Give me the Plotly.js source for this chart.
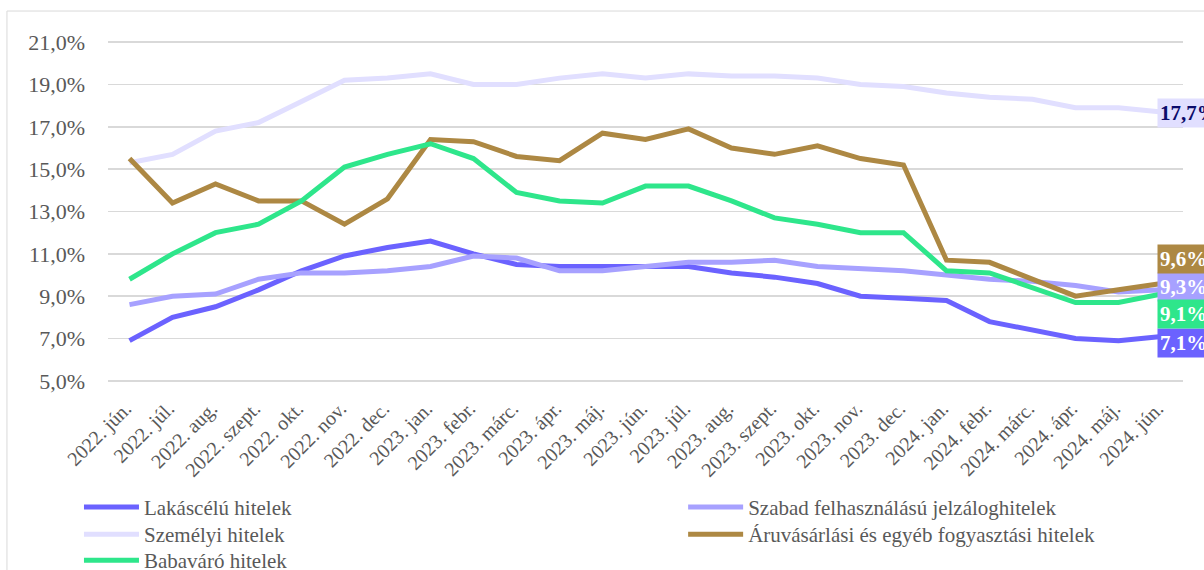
<!DOCTYPE html>
<html><head><meta charset="utf-8">
<script src="https://cdn.plot.ly/plotly-3.0.1.min.js"></script>
<style>html,body{margin:0;padding:0;background:#fff}#chart{width:1204px;height:570px}</style>
</head><body><div id="chart"></div>
<script>
const months = ['2022. jún.','2022. júl.','2022. aug.','2022. szept.','2022. okt.','2022. nov.','2022. dec.',
  '2023. jan.','2023. febr.','2023. márc.','2023. ápr.','2023. máj.','2023. jún.','2023. júl.','2023. aug.',
  '2023. szept.','2023. okt.','2023. nov.','2023. dec.','2024. jan.','2024. febr.','2024. márc.','2024. ápr.',
  '2024. máj.','2024. jún.'];
const names = ['Lakáscélú hitelek','Szabad felhasználású jelzáloghitelek','Személyi hitelek',
  'Áruvásárlási és egyéb fogyasztási hitelek','Babaváró hitelek'];
const lakascelu = [6.9,8.0,8.5,9.3,10.2,10.9,11.3,11.6,11.0,10.5,10.4,10.4,10.4,10.4,10.1,9.9,9.6,9.0,8.9,8.8,7.8,7.4,7.0,6.9,7.1];
const szabad    = [8.6,9.0,9.1,9.8,10.1,10.1,10.2,10.4,10.9,10.8,10.2,10.2,10.4,10.6,10.6,10.7,10.4,10.3,10.2,10.0,9.8,9.7,9.5,9.2,9.3];
const szemelyi  = [15.3,15.7,16.8,17.2,18.2,19.2,19.3,19.5,19.0,19.0,19.3,19.5,19.3,19.5,19.4,19.4,19.3,19.0,18.9,18.6,18.4,18.3,17.9,17.9,17.7];
const aruvasarlasi = [15.5,13.4,14.3,13.5,13.5,12.4,13.6,16.4,16.3,15.6,15.4,16.7,16.4,16.9,16.0,15.7,16.1,15.5,15.2,10.7,10.6,9.8,9.0,9.3,9.6];
const babavaro  = [9.8,11.0,12.0,12.4,13.5,15.1,15.7,16.2,15.5,13.9,13.5,13.4,14.2,14.2,13.5,12.7,12.4,12.0,12.0,10.2,10.1,9.4,8.7,8.7,9.1];

const series = [lakascelu, szabad, szemelyi, aruvasarlasi, babavaro];
const colors = ['#6B62FF','#A7A1FF','#E1DFFF','#AD8843','#2EE68B'];
const labelText = ['#FFFFFF','#FFFFFF','#0B0B6B','#FFFFFF','#FFFFFF'];
const legendIds = ['legend','legend2','legend3','legend4','legend5'];
// legend placement (paper coords): column x, row top y
const legendPos = [[-0.027,-0.303],[0.535,-0.303],[-0.027,-0.382],[0.535,-0.382],[-0.027,-0.458]];
const labelShift = [-7, 3, -1, 24, -20];

const FONT = 'Liberation Serif';
const traces = series.map((s,i)=>({
  type:'scatter', mode:'lines', x:months, y:s, name:names[i],
  line:{color:colors[i], width:5}, legend:legendIds[i], hoverinfo:'skip'
}));

const last = months[months.length-1];
const annotations = series.map((s,i)=>({
  x:last, y:s[s.length-1], xref:'x', yref:'y', xanchor:'left', yanchor:'middle',
  xshift:-5, yshift:labelShift[i], showarrow:false,
  text:'<b>'+s[s.length-1].toFixed(1).replace('.',',')+'%</b>',
  font:{family:FONT, size:21, color:labelText[i]}, bgcolor:colors[i], borderpad:2
}));

const layout = {
  width:1204, height:570,
  margin:{l:108, r:21, t:40, b:187, autoexpand:false},
  paper_bgcolor:'#ffffff', plot_bgcolor:'#ffffff',
  separators:',.',
  font:{family:FONT, color:'#595959'},
  xaxis:{type:'category', range:[-0.5, months.length-0.5], tickangle:-45, showgrid:false, zeroline:false, showline:false,
    tickfont:{family:FONT, size:20, color:'#595959'}, ticks:'', ticklabelstandoff:9, ticklabelshift:-4},
  yaxis:{range:[4.9,21.1], tick0:5, dtick:2, tickformat:'.1f', ticksuffix:'%',
    showgrid:true, gridcolor:'#D9D9D9', gridwidth:1.5, zeroline:false, showline:false,
    tickfont:{family:FONT, size:22, color:'#595959'}, ticklabelstandoff:22},
  showlegend:true,
  annotations:annotations,
  shapes:[{type:'rect', xref:'paper', yref:'paper', x0:-0.094, x1:1.05, y0:1.0845, y1:-0.7,
    line:{color:'#D9D9D9', width:1}, fillcolor:'rgba(0,0,0,0)', layer:'below'}]
};
legendIds.forEach((id,i)=>{
  layout[id] = {x:legendPos[i][0], y:legendPos[i][1], xanchor:'left', yanchor:'top', orientation:'v',
    font:{family:FONT, size:21, color:'#595959'}, itemwidth:55, bgcolor:'rgba(0,0,0,0)'};
});
Plotly.newPlot('chart', traces, layout, {staticPlot:true, displayModeBar:false});
</script></body></html>
